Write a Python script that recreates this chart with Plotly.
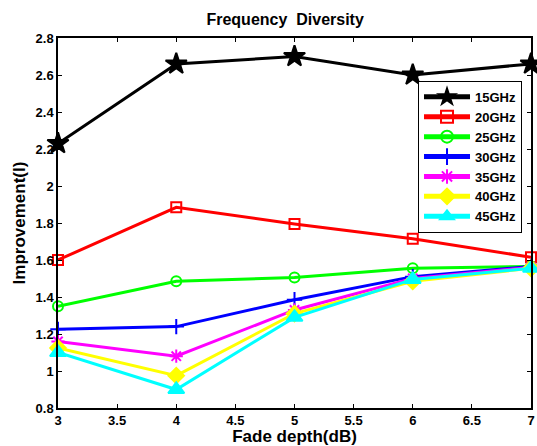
import plotly.graph_objects as go

x_vals = [3, 4, 5, 6, 7]
names = ["15GHz", "20GHz", "25GHz", "30GHz", "35GHz", "40GHz", "45GHz"]
y15 = [2.23, 2.66, 2.70, 2.60, 2.66]
y20 = [1.60, 1.885, 1.795, 1.715, 1.615]
y25 = [1.35, 1.485, 1.505, 1.555, 1.565]
y30 = [1.225, 1.24, 1.385, 1.51, 1.565]
y35 = [1.16, 1.08, 1.33, 1.50, 1.56]
y40 = [1.125, 0.975, 1.31, 1.485, 1.555]
y45 = [1.10, 0.90, 1.29, 1.495, 1.555]
series = [y15, y20, y25, y30, y35, y40, y45]

colors = ["#000000", "#ff0000", "#00ff00", "#0000ff", "#ff00ff", "#ffff00", "#00ffff"]
symbols = ["star", "square-open", "circle-open", "cross-thin-open", "asterisk-open",
           "diamond", "triangle-up"]
sizes = [16, 10, 10, 11, 11, 12, 14]

fig = go.Figure()
for n, ys, c, s, sz in zip(names, series, colors, symbols, sizes):
    fig.add_trace(go.Scatter(
        x=x_vals, y=ys, name=n, mode="lines+markers", cliponaxis=False,
        line=dict(color=c, width=3),
        marker=dict(symbol=s, size=sz, color=c, line=dict(color=c, width=2)),
    ))

FAM = "Liberation Sans, Arial, sans-serif"
axis_common = dict(
    showline=True, linecolor="black", linewidth=1.5, mirror="ticks",
    ticks="inside", ticklen=4, tickcolor="black", showgrid=False, zeroline=False,
    automargin=False, ticklabeloverflow="allow",
    tickfont=dict(family=FAM, size=13, color="black", weight="bold"),
)
fig.update_layout(
    width=537, height=446,
    margin=dict(l=58, r=6, t=38, b=38),
    paper_bgcolor="white", plot_bgcolor="white",
    font=dict(family=FAM, size=12, color="black"),
    title=dict(text="<b>Frequency  Diversity</b>", x=0.531, xanchor="center", y=0.956, yanchor="middle",
               font=dict(family=FAM, size=16, color="black")),
    xaxis=dict(range=[3, 7], dtick=0.5,
               title=dict(text="<b>Fade depth(dB)</b>", standoff=7,
                          font=dict(family=FAM, size=17)),
               **axis_common),
    yaxis=dict(range=[0.8, 2.8], dtick=0.2,
               title=dict(text="<b>Improvement(I)</b>", standoff=6,
                          font=dict(family=FAM, size=17)),
               **axis_common),
    legend=dict(x=0.981, y=0.884, xanchor="right", yanchor="top",
                bgcolor="white", bordercolor="black", borderwidth=1,
                font=dict(family=FAM, size=13, color="black", weight="bold"),
                tracegroupgap=0, itemsizing="constant", itemwidth=46),
)
fig.write_html("out.html", config={"displayModeBar": False},
               post_script="document.body.style.margin='0';document.body.style.overflow='hidden';")
